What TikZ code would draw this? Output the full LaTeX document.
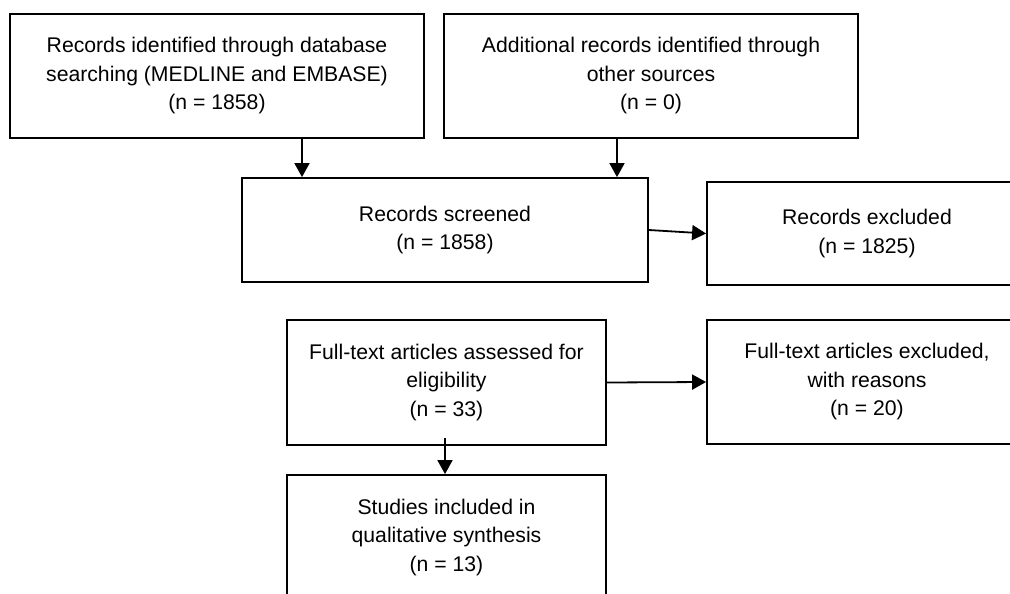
\documentclass[tikz,border=0pt]{standalone}
\usepackage{fontspec}
\setmainfont{Liberation Sans}
\usetikzlibrary{arrows.meta}
\tikzset{
  stagebox/.style={draw, line width=1.8pt, align=center, inner sep=0pt,
    font=\fontsize{21.2}{28.5}\selectfont},
}
\begin{document}
\begin{tikzpicture}[x=1pt,y=-1pt,>={Triangle[length=14pt,width=15pt]},line width=1.8pt]
\useasboundingbox (0,0) rectangle (1010,594);

    % identification
    \node[stagebox, minimum width=414pt, minimum height=124pt] (dbrec) at (217,76)
      {Records identified through database\\searching (MEDLINE and EMBASE)\\(n = 1858)};
    \node[stagebox, minimum width=414pt, minimum height=124pt] (otherrec) at (651,76)
      {Additional records identified through\\other sources\\(n = 0)};

    % screening
    \node[stagebox, minimum width=406pt, minimum height=104pt] (screen) at (445,230)
      {Records screened\\(n = 1858)};
    \node[stagebox, minimum width=320pt, minimum height=103pt] (excl) at (867,233.5)
      {Records excluded\\(n = 1825)};

    % eligibility
    \node[stagebox, minimum width=319pt, minimum height=125pt] (fulltext) at (446.5,382.5)
      {Full-text articles assessed for\\eligibility\\(n = 33)};
    \node[stagebox, minimum width=320pt, minimum height=124pt] (fullexcl) at (867,382)
      {Full-text articles excluded,\\with reasons\\(n = 20)};

    % included
    \node[stagebox, minimum width=319pt, minimum height=125pt] (incl) at (446.5,537.5)
      {Studies included in\\qualitative synthesis\\(n = 13)};

\draw[->] ([xshift=85pt]dbrec.south) -- ([xshift=85pt]dbrec.south |- screen.north);
\draw[->] ([xshift=-34pt]otherrec.south) -- ([xshift=-34pt]otherrec.south |- screen.north);
\draw[->] (screen.east) -- (excl.west);
\draw[->] (fulltext.east) -- (fullexcl.west);
\draw[->] ([xshift=-1.5pt,yshift=8pt]fulltext.south) -- ([xshift=-1.5pt]incl.north);
\end{tikzpicture}
\end{document}
